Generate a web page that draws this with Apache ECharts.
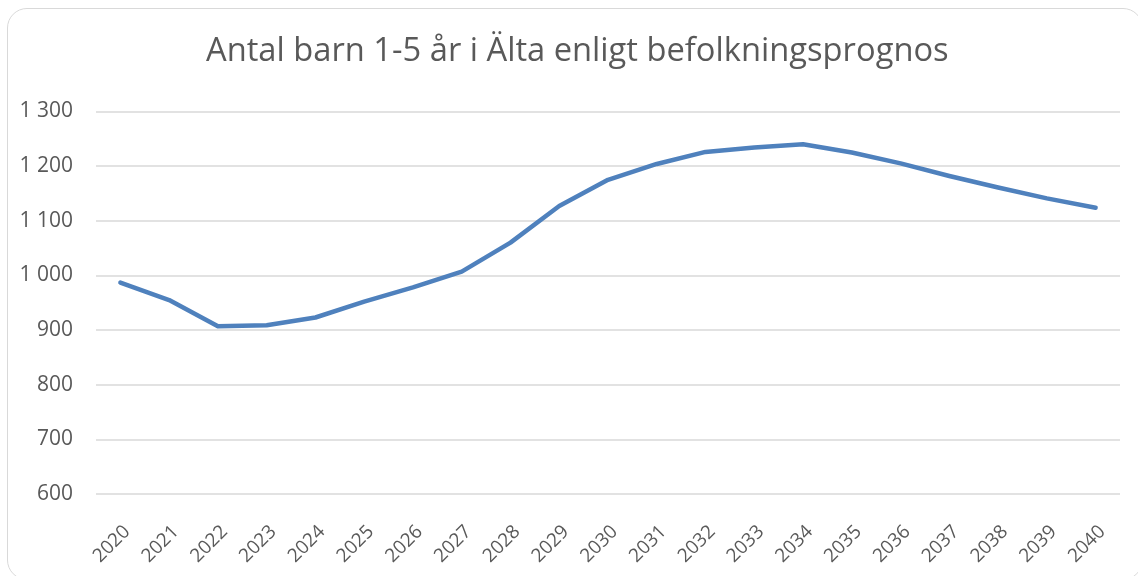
<!DOCTYPE html>
<html>
<head>
<meta charset="utf-8">
<script src="https://cdn.jsdelivr.net/npm/echarts@6/dist/echarts.min.js"></script>
<style>
html,body{margin:0;padding:0;background:#fff;}
#chart{position:absolute;left:0;top:0;width:1138px;height:576px;}
#frame{position:absolute;left:7px;top:8px;width:1136px;height:572px;border:1.5px solid #d9d9d9;border-radius:20px;box-sizing:border-box;pointer-events:none;}
</style>
</head>
<body>
<div id="chart"></div>
<div id="frame"></div>
<script>
const titleText = 'Antal barn 1-5 år i Älta enligt befolkningsprognos';
const years = ['2020','2021','2022','2023','2024','2025','2026','2027','2028','2029','2030','2031','2032','2033','2034','2035','2036','2037','2038','2039','2040'];
const children = [987, 955, 907, 909, 923, 952, 978, 1007, 1060, 1127, 1175, 1204, 1226, 1234, 1240, 1225, 1205, 1182, 1161, 1141, 1124];
const yMin = 600, yMax = 1300, yStep = 100;

const chart = echarts.init(document.getElementById('chart'));
chart.setOption({
  animation: false,
  title: {
    text: titleText,
    left: 201,
    top: 30,
    textStyle: {fontFamily: 'Open Sans', fontSize: 32.7, fontWeight: 'normal', color: '#595959'}
  },
  grid: {left: 96, right: 18, top: 111.5, bottom: 82, containLabel: false, outerBoundsMode: 'none'},
  xAxis: {
    type: 'category',
    data: years,
    boundaryGap: true,
    axisLine: {show: false},
    axisTick: {show: false},
    axisLabel: {rotate: 45, fontFamily: 'Open Sans', fontSize: 19, color: '#595959', margin: 28, interval: 0, hideOverlap: false, verticalAlign: 'top'}
  },
  yAxis: {
    type: 'value',
    min: yMin, max: yMax, interval: yStep,
    axisLine: {show: false},
    axisTick: {show: false},
    splitLine: {lineStyle: {color: '#d9d9d9', width: 1.5}},
    axisLabel: {
      fontFamily: 'Open Sans', fontSize: 21, color: '#595959', margin: 23,
      formatter: v => String(v).replace(/\B(?=(\d{3})+(?!\d))/g, ' ')
    }
  },
  series: [{
    type: 'line',
    data: children,
    showSymbol: false,
    lineStyle: {color: '#4f81bd', width: 4.5, cap: 'round', join: 'round'},
    itemStyle: {color: '#4f81bd'}
  }]
});
</script>
</body>
</html>
